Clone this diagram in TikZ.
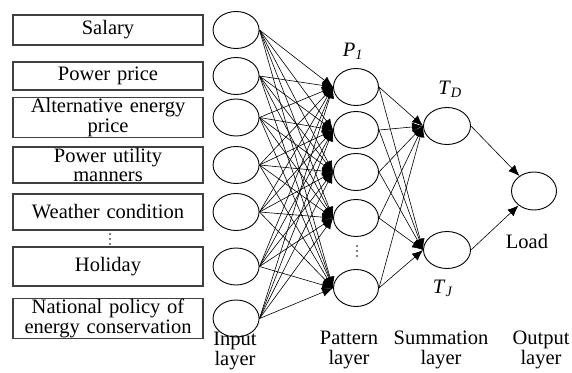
\documentclass[tikz,border=0pt]{standalone}
\usepackage{fontspec}
\setmainfont{Liberation Serif}
\usetikzlibrary{positioning, shapes.geometric, arrows.meta}

\begin{document}
\begin{tikzpicture}[
	x=1pt, y=-1pt,
	font=\fontsize{20.5}{19.5}\selectfont,
	node distance=9pt,
	mybox/.style={
		draw=black!75,
		line width=1.2pt,
		rectangle,
		text centered,
		text width=186pt,
		minimum height=30pt,
		inner xsep=2pt,
		inner ysep=1pt
	},
	neuron/.style={
		draw,
		ellipse,
		line width=0.9pt,
		minimum width=46pt,
		minimum height=37pt,
		inner sep=0pt
	},
	arrow/.style={
		-{Latex[length=11pt,width=9pt]},
		line width=0.6pt
	},
	layerlabel/.style={align=center},
	vdot/.style={circle, fill, inner sep=0pt, minimum size=1.6pt}
	]
	\useasboundingbox (0,0) rectangle (572,372);
	% input factors
	\node[mybox] (salary) at (108,30) {Salary};
	\node[mybox, minimum height=28pt] (price) at (108,76) {Power price};
	\node[mybox] (alt) at (108,117.5) {Alternative energy\\price};
	\node[mybox, minimum height=36pt] (manner) at (108,165) {Power utility\\manners};
	\node[mybox, minimum height=36pt] (weather) at (108,212) {Weather condition};
	\node[mybox, minimum height=39pt] (holiday) at (108,266.5) {Holiday};
	\node[mybox] (policy) at (108,318.5) {National policy of\\energy conservation};
	\foreach \k in {0,1,2}
		\node[vdot] (da\k) at (110,234+5*\k) {};
	% input layer
	\node[neuron, right=of salary] (in1) {};
	\node[neuron, right=of price] (in2) {};
	\node[neuron, right=of alt] (in3) {};
	\node[neuron, right=of manner] (in4) {};
	\node[neuron, right=of weather] (in5) {};
	\node[neuron, right=of holiday] (in6) {};
	\node[neuron, right=of policy] (in7) {};
	% pattern layer
	\node[neuron, minimum width=45pt] (p1) at (356,87) {};
	\node[neuron, minimum width=45pt] (p2) at (356,130) {};
	\node[neuron, minimum width=45pt] (p3) at (356,172) {};
	\node[neuron, minimum width=45pt] (p4) at (356,218) {};
	\node[neuron, minimum width=45pt] (p5) at (356,288) {};
	\foreach \k in {0,1,2}
		\node[vdot] (db\k) at (357,246+5*\k) {};
	% summation and output layer
	\node[neuron, minimum width=47pt] (td) at (447,126) {};
	\node[neuron, minimum width=47pt] (tj) at (447,250) {};
	\node[neuron, minimum width=45pt, minimum height=38pt] (out) at (534,191) {};
	% labels
	\node (lp) at (353,51) {\textit{P}\textsubscript{\textit{1}}};
	\node (ltd) at (450,89) {\textit{T}\textsubscript{\textit{D}}};
	\node (ltj) at (443,288) {\textit{T}\textsubscript{\textit{J}}};
	\node (lload) at (527,241) {Load};
	\node[layerlabel] (lin) at (235,351) {Input\\layer};
	\node[layerlabel] (lpat) at (349,350) {Pattern\\layer};
	\node[layerlabel] (lsum) at (441,350) {Summation\\layer};
	\node[layerlabel] (lout) at (541,350) {Output\\layer};
	% connections
	\foreach \i in {1,...,7}
		\foreach \j in {1,...,5}
			\draw[arrow] (in\i.east) -- (p\j.west);
	\foreach \j in {1,...,5} {
		\draw[arrow] (p\j.east) -- (td.west);
		\draw[arrow] (p\j.east) -- (tj.west);
	}
	\draw[arrow] (td.east) -- (out);
	\draw[arrow] (tj.east) -- (out);
\end{tikzpicture}
\end{document}
